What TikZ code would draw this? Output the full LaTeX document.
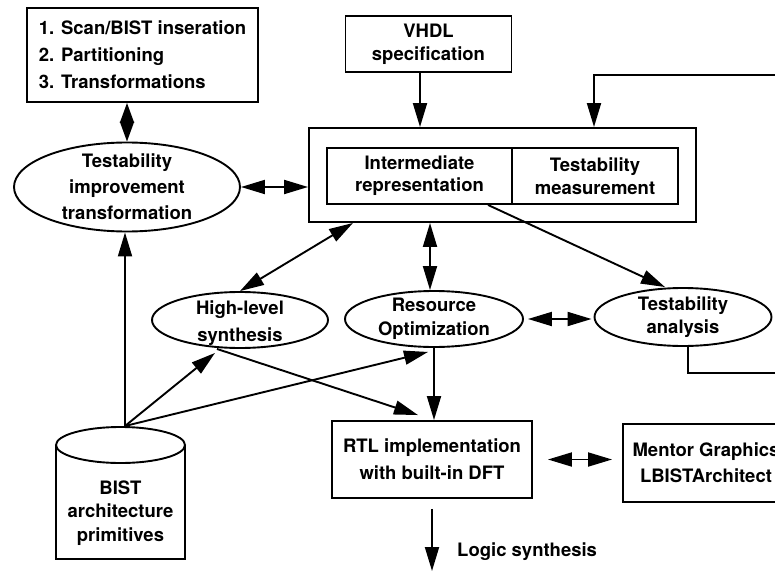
\documentclass[tikz,border=0pt]{standalone}
\usepackage{fontspec}
\setmainfont{TeX Gyre Heros}
\usetikzlibrary{arrows.meta,shapes.geometric}
\newcommand{\fs}[1]{\fontsize{18.5}{#1}\selectfont\bfseries}
\begin{document}
\begin{tikzpicture}[x=1pt,y=-1pt,
  every node/.style={font=\fs{24}},
  ln/.style={line width=1.9pt},
  arr/.style={ln,-{Triangle[length=24pt,width=14pt]}},
  darr/.style={ln,{Triangle[length=24pt,width=14pt]}-{Triangle[length=24pt,width=14pt]}},
  box/.style={draw,line width=1.9pt,inner sep=0pt,align=center},
  oval/.style={draw,ellipse,line width=1.9pt,inner sep=0pt},
  txt/.style={align=center,inner sep=0pt}
]
\useasboundingbox (0,0) rectangle (775,572);
\clip (0,0) rectangle (775,572);

% nodes
\node[box,minimum width=231pt,minimum height=94pt,align=left,font=\fs{27}] (steps) at (142.5,55)
  {1. Scan/BIST inseration\\2. Partitioning\\3. Transformations};
\node[oval,minimum width=226pt,minimum height=89pt,
  label={[txt,font=\fs{26}]center:Testability\\improvement\\transformation}] (ti) at (127,187) {};
\node[box,minimum width=166pt,minimum height=56pt,font=\fs{23}] (vhdl) at (428.5,44) {VHDL\\specification};
\node[box,minimum width=387pt,minimum height=94pt] (outer) at (502.5,175) {};
\node[box,minimum width=185pt,minimum height=56pt,font=\fs{22}] (ir) at (419.5,176) {Intermediate\\representation};
\node[box,minimum width=166pt,minimum height=56pt,font=\fs{23}] (tm) at (595,176) {Testability\\measurement};
\node[oval,minimum width=176pt,minimum height=56pt,
  label={[txt,font=\fs{27},yshift=-3pt]center:High-level\\synthesis}] (hls) at (240,320) {};
\node[oval,minimum width=178pt,minimum height=56pt,
  label={[txt,font=\fs{24}]center:Resource\\Optimization}] (ro) at (434,319) {};
\node[oval,minimum width=177pt,minimum height=58pt,
  label={[txt,font=\fs{23}]center:Testability\\analysis}] (ta) at (683,317) {};
\node[box,minimum width=200pt,minimum height=77pt,font=\fs{27}] (rtl) at (432,459.5) {RTL implementation\\with built-in DFT};
\node[box,minimum width=166pt,minimum height=78pt,font=\fs{26}] (mentor) at (706,463) {Mentor Graphics\\LBISTArchitect};

% cylinder
\draw[ln] (56,445) -- (56,559) -- (185,559) -- (185,445);
\draw[ln] (120.5,445) ellipse [x radius=64.5pt, y radius=18pt];
\coordinate (bisttop) at (125,426);
\node[txt,font=\fs{23.5}] (bist) at (120.5,513) {BIST\\architecture\\primitives};

% free ends
\coordinate (fbtop) at (800,75);
\coordinate (fbbot) at (800,373);
\coordinate (ls) at (432,571);

% connectors
\draw[ln,{Triangle[length=20pt,width=14pt]}-{Triangle[length=20pt,width=14pt]}] (steps.south -| ti.north) -- (ti.north);
\draw[darr] (ti.east) -- (ti.east -| outer.west);
\draw[arr] ([xshift=-8.5pt]vhdl.south) -- ([xshift=-8.5pt]vhdl.south |- outer.north);
\draw[arr] (fbtop) -| ([xshift=91.5pt]outer.north);
\draw[ln] ([xshift=5pt]ta.south) |- (fbbot);
\draw[darr] (hls.north) -- ([xshift=-149.5pt]outer.south);
\draw[darr] ([xshift=-4pt]ro.north) -- ([xshift=-4pt]ro.north |- outer.south);
\draw[arr] ([xshift=68.5pt]ir.south) -- ([xshift=-18pt]ta.north);
\draw[darr] ([xshift=4pt]ro.east) -- ([xshift=-2pt]ro.east -| ta.west);
\draw[arr] ([xshift=-23pt]hls.south) -- ([xshift=-14pt,yshift=5pt]rtl.north);
\draw[arr] (ro.south) -- (ro.south |- rtl.north);
\draw[arr] (bisttop) -- ([xshift=-25pt,yshift=-4pt]hls.south);
\draw[arr] (bisttop) -- ([xshift=-6pt,yshift=-4pt]ro.south);
\draw[arr] (bisttop) -- (bisttop |- ti.south);
\draw[darr] ([xshift=15pt]rtl.east) -- ([xshift=-10pt]rtl.east -| mentor.west);
\draw[arr] ([yshift=-10pt]rtl.south) -- (ls);
\node[anchor=west,inner sep=0pt] (lstext) at (457,552) {Logic synthesis};
\end{tikzpicture}
\end{document}
